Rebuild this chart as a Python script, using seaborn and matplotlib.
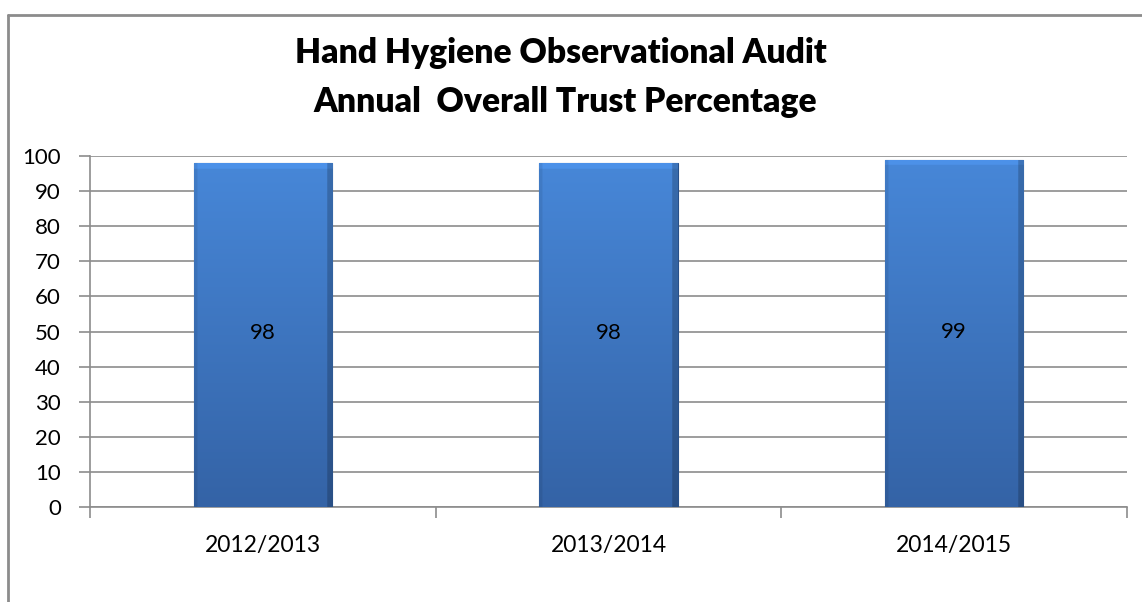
import numpy as np
import pandas as pd
import matplotlib
matplotlib.use("Agg")
import matplotlib.pyplot as plt
import seaborn as sns
from matplotlib.lines import Line2D
from matplotlib.colors import to_rgb

categories = ["2012/2013", "2013/2014", "2014/2015"]
values = [98, 98, 99]
yticks = list(range(0, 101, 10))
title_lines = ["Hand Hygiene Observational Audit", "Annual  Overall Trust Percentage"]

sns.set_theme(style="white")
plt.rcParams["font.family"] = ["Lato", "DejaVu Sans"]

df = pd.DataFrame({"period": categories, "value": values})

fig = plt.figure(figsize=(11.42, 6.02), dpi=100)
W, H = 1142, 602
ax = fig.add_axes([90 / W, 1 - 507 / H, (1127 - 90) / W, (507 - 156) / H])

sns.barplot(data=df, x="period", y="value", color="#3f7acb", width=0.40,
            ax=ax, zorder=3, edgecolor="#27508a", linewidth=0.8)

ax.set_ylim(0, 100)
ax.set_xlim(-0.5, len(categories) - 0.5)
ax.set_yticks(yticks)
ax.set_yticklabels([str(t) for t in yticks], fontsize=16, color="black")
ax.set_xticks(range(len(categories)))
ax.set_xticklabels(categories, fontsize=16.5, color="black")
ax.set_xlabel("")
ax.set_ylabel("")

ax.yaxis.grid(True, color="#8c8c8c", linewidth=1.2, zorder=0)
ax.set_axisbelow(True)
for s in ["top", "right"]:
    ax.spines[s].set_visible(False)
for s in ["left", "bottom"]:
    ax.spines[s].set_color("#8c8c8c")
    ax.spines[s].set_linewidth(1.2)

ax.tick_params(axis="y", which="major", length=8, width=1.2, color="#8c8c8c", left=True, pad=13)
ax.tick_params(axis="x", which="major", length=0, pad=20)
ax.set_xticks(np.arange(-0.5, len(categories), 1.0), minor=True)
ax.tick_params(axis="x", which="minor", length=8, width=1.2, color="#8c8c8c", bottom=True)

# bevelled gradient fill for bars
top = np.array(to_rgb("#4787d8"))
bot = np.array(to_rgb("#3463a6"))
ny, nx = 300, 120
yy = np.linspace(0, 1, ny).reshape(-1, 1)  # 0 bottom, 1 top
xx = np.linspace(0, 1, nx).reshape(1, -1)
base = bot[None, None, :] * (1 - yy[..., None]) + top[None, None, :] * yy[..., None]
base = np.broadcast_to(base, (ny, nx, 3)).copy()
shade = np.ones((ny, nx))
shade *= np.where(xx > 0.965, 0.80, 1.0)
shade *= np.where(xx < 0.025, 0.92, 1.0)
shade *= np.where(yy > 0.985, 1.08, 1.0)
img = np.clip(base * shade[..., None], 0, 1)
for patch in ax.patches:
    x0, y0 = patch.get_x(), patch.get_y()
    w, h = patch.get_width(), patch.get_height()
    im = ax.imshow(img, extent=[x0, x0 + w, y0, y0 + h], origin="lower",
                   aspect="auto", zorder=3.5, interpolation="bilinear")
    im.set_clip_path(patch)
    ax.text(x0 + w / 2, h / 2 + 0.5, f"{h:g}", ha="center", va="center",
            fontsize=16, color="black", zorder=5)

ax.set_xlim(-0.5, len(categories) - 0.5)
ax.set_ylim(0, 100)

fig.text(561 / W, 1 - 63 / H, title_lines[0], ha="center", va="baseline",
         fontsize=24.2, fontweight="heavy", color="black")
fig.text(565 / W, 1 - 112 / H, title_lines[1], ha="center", va="baseline",
         fontsize=24.2, fontweight="heavy", color="black")

fig.add_artist(Line2D([8 / W, 8 / W], [0, 1 - 15 / H], color="#8c8c8c", linewidth=2,
                      transform=fig.transFigure))
fig.add_artist(Line2D([8 / W, 1], [1 - 15 / H, 1 - 15 / H], color="#8c8c8c", linewidth=2,
                      transform=fig.transFigure))

fig.savefig("out.png", dpi=100)
